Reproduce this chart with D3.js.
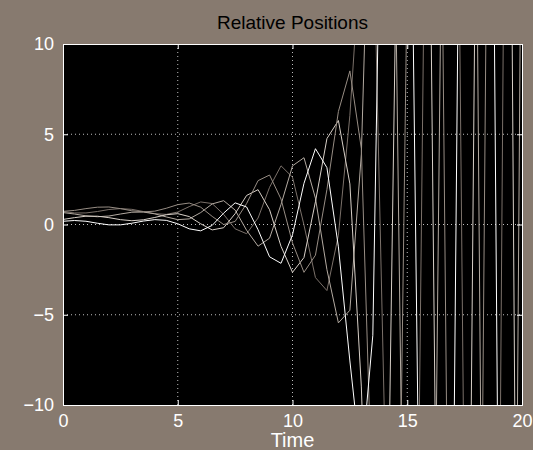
<!DOCTYPE html>
<html>
<head>
<meta charset="utf-8">
<script src="https://cdn.jsdelivr.net/npm/d3@7"></script>
<style>
  body { margin: 0; background: #877a6f; }
  svg text { font-family: "Liberation Sans", Arial, sans-serif; }
</style>
</head>
<body>
<div id="chart"></div>
<script>
let svgWidth = 533, svgHeight = 450
let margin = { top: 44, right: 11, bottom: 45, left: 63 }
let width = svgWidth - margin.left - margin.right
let height = svgHeight - margin.top - margin.bottom

// sample times, step 0.5
let times = d3.range(0, 20.001, 0.5)

// relative positions (clipped at +/-10 when drawn)
let pos1 = [0.72, 0.64, 0.64, 0.72, 0.83, 0.88, 0.84, 0.72, 0.60, 0.56, 0.69, 0.99, 1.25, 1.16, 0.56, -0.24, -0.51, 0.36, 2.06, 3.25, 2.62, -0.03, -2.94, -3.66, -0.59, 6.05, 15.75, 18.2, -10.4, -48.8, -53.3, -13.7, 44.4, 74.8, 49.4, -17.8, -78.5, -83.0, -21.1, 64.9, 108.8]
let pos2 = [0.66, 0.58, 0.48, 0.43, 0.47, 0.58, 0.68, 0.69, 0.59, 0.42, 0.27, 0.31, 0.66, 1.14, 1.32, 0.80, -0.32, -1.20, -0.76, 1.11, 3.25, 3.70, 1.46, -2.50, -5.45, -4.75, 3.90, 25.8, 45.6, 12.8, -36.8, -64.4, -43.1, 17.0, 70.8, 75.3, 20.2, -57.4, -97.4, -63.6, 24.6]
let pos3 = [0.18, 0.22, 0.18, 0.07, -0.02, -0.02, 0.07, 0.19, 0.27, 0.23, 0.04, -0.24, -0.35, -0.05, 0.63, 1.20, 0.97, -0.29, -1.79, -2.15, -0.57, 2.28, 4.20, 3.15, -1.24, -7.56, -13.4, -6.14, 31.3, 55.1, 37.5, -14.4, -63.0, -66.6, -17.3, 51.8, 88.1, 58.0, -21.8, -92.7, -97.2]
let pos4 = [0.28, 0.38, 0.46, 0.46, 0.38, 0.27, 0.21, 0.26, 0.39, 0.54, 0.60, 0.44, 0.04, -0.30, -0.18, 0.60, 1.61, 1.93, 0.82, -1.21, -2.65, -1.83, 1.26, 4.76, 5.76, 2.25, -9.0, -27.7, -30.8, 12.6, 54.4, 58.9, 15.9, -45.8, -77.7, -51.4, 19.9, 84.1, 88.6, 23.3, -67.0]
let pos5 = [0.73, 0.78, 0.88, 0.96, 0.97, 0.88, 0.76, 0.70, 0.74, 0.90, 1.10, 1.19, 0.96, 0.45, 0.00, 0.17, 1.16, 2.43, 2.74, 1.41, -1.02, -2.65, -1.70, 1.94, 6.26, 8.51, 4.2, -16.6, -49.2, -33.4, 14.2, 59.4, 63.9, 17.3, -47.7, -82.2, -54.0, 21.6, 89.2, 93.7, 24.9]

let seriesList = [pos1, pos2, pos4, pos5, pos3]
let lineColors = ["#7b716a", "#b3aaa1", "#d8d0c8", "#978d84", "#ffffff"]

let xTicks = [0, 5, 10, 15, 20]
let yTicks = [-10, -5, 0, 5, 10]

let svg = d3.select("#chart")
  .append("svg")
  .attr("width", svgWidth)
  .attr("height", svgHeight)

svg.append("rect")
  .attr("width", svgWidth)
  .attr("height", svgHeight)
  .attr("fill", "#877a6f")

let chartGroup = svg.append("g")
  .attr("transform", `translate(${margin.left}, ${margin.top})`)

let xScale = d3.scaleLinear().domain([0, 20]).range([0, width])
let yScale = d3.scaleLinear().domain([-10, 10]).range([height, 0])

// black plot area
chartGroup.append("rect")
  .attr("width", width)
  .attr("height", height)
  .attr("fill", "#000")

// dotted grid
chartGroup.append("g")
  .selectAll("line")
  .data(xTicks.slice(1, -1))
  .enter()
  .append("line")
  .attr("x1", d => xScale(d)).attr("x2", d => xScale(d))
  .attr("y1", 0).attr("y2", height)
  .attr("stroke", "#bdbdbd")
  .attr("stroke-dasharray", "1,3")

chartGroup.append("g")
  .selectAll("line")
  .data(yTicks.slice(1, -1))
  .enter()
  .append("line")
  .attr("y1", d => yScale(d)).attr("y2", d => yScale(d))
  .attr("x1", 0).attr("x2", width)
  .attr("stroke", "#bdbdbd")
  .attr("stroke-dasharray", "1,3")

svg.append("clipPath")
  .attr("id", "plotClip")
  .append("rect")
  .attr("width", width)
  .attr("height", height)

let line = d3.line()
  .x((d, i) => xScale(times[i]))
  .y(d => yScale(d))

chartGroup.append("g")
  .attr("clip-path", "url(#plotClip)")
  .selectAll("path")
  .data(seriesList)
  .enter()
  .append("path")
  .attr("d", d => line(d))
  .attr("fill", "none")
  .attr("stroke", (d, i) => lineColors[i])
  .attr("stroke-width", 1)

// axes, ticks inside
let bottomAxis = d3.axisBottom(xScale).tickValues(xTicks).tickSize(-5).tickPadding(9)
let leftAxis = d3.axisLeft(yScale).tickValues(yTicks).tickSize(-5).tickPadding(9)
let topAxis = d3.axisTop(xScale).tickValues(xTicks).tickSize(-5).tickFormat("")
let rightAxis = d3.axisRight(yScale).tickValues(yTicks).tickSize(-5).tickFormat("")

let styleAxis = g => {
  g.select(".domain").attr("stroke", "#fff")
  g.selectAll(".tick line").attr("stroke", "#fff")
  g.selectAll(".tick text")
    .attr("fill", "#fff")
    .attr("font-size", 18)
    .attr("font-family", "Liberation Sans, Arial, sans-serif")
}

chartGroup.append("g").attr("transform", `translate(0, ${height})`).call(bottomAxis).call(styleAxis)
chartGroup.append("g").call(leftAxis).call(styleAxis)
chartGroup.append("g").call(topAxis).call(styleAxis)
chartGroup.append("g").attr("transform", `translate(${width}, 0)`).call(rightAxis).call(styleAxis)

// title and x label
svg.append("text")
  .attr("x", margin.left + width / 2)
  .attr("y", 29)
  .attr("text-anchor", "middle")
  .attr("font-size", 19)
  .attr("fill", "#000")
  .text("Relative Positions")

svg.append("text")
  .attr("x", margin.left + width / 2)
  .attr("y", 447)
  .attr("text-anchor", "middle")
  .attr("font-size", 20)
  .attr("fill", "#fff")
  .text("Time")
</script>
</body>
</html>
